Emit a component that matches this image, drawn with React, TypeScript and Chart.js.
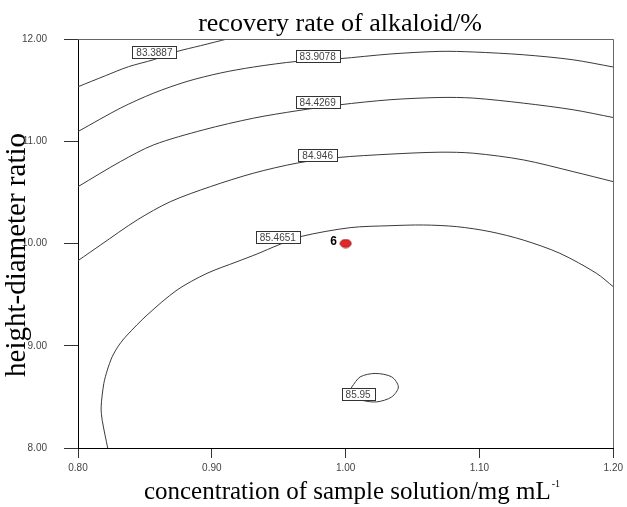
import React, { useEffect, useRef } from 'react';
import { Chart, registerables } from 'chart.js';

Chart.register(...registerables);

const TITLE = 'recovery rate of alkaloid/%';
const X_TITLE = 'concentration of sample solution/mg mL';
const X_TITLE_SUP = '-1';
const Y_TITLE = 'height-diameter ratio';

const X_TICKS = [0.8, 0.9, 1.0, 1.1, 1.2];
const Y_TICKS = [8, 9, 10, 11, 12];

const LEVELS = ['83.3887', '83.9078', '84.4269', '84.946', '85.4651', '85.95'];

const C1_X = [0.8, 0.8205, 0.8377, 0.8563, 0.8735, 0.8914, 0.9123];
const C1_Y = [11.533, 11.641, 11.729, 11.797, 11.876, 11.934, 12.003];

const C2_X = [0.8, 0.8317, 0.8566, 0.8815, 0.9063, 0.9312, 0.9636, 0.9952, 1.0332, 1.0705, 1.0954, 1.1327, 1.1698, 1.2];
const C2_Y = [11.095, 11.324, 11.471, 11.585, 11.667, 11.726, 11.781, 11.807, 11.853, 11.879, 11.873, 11.846, 11.797, 11.726];

const C3_X = [0.8, 0.8317, 0.8566, 0.8939, 0.9312, 0.9636, 0.9952, 1.0332, 1.0705, 1.0954, 1.1327, 1.17, 1.2];
const C3_Y = [10.556, 10.801, 10.965, 11.112, 11.226, 11.298, 11.356, 11.406, 11.428, 11.422, 11.373, 11.308, 11.232];

const C4_X = [0.8, 0.8168, 0.8442, 0.869, 0.8989, 0.9312, 0.9636, 0.9934, 1.0332, 1.0705, 1.0954, 1.1327, 1.17, 1.2];
const C4_Y = [9.832, 9.985, 10.23, 10.409, 10.556, 10.688, 10.786, 10.84, 10.874, 10.893, 10.883, 10.818, 10.703, 10.605];

const C5_X = [0.8222, 0.8181, 0.8173, 0.8193, 0.8219, 0.8255, 0.8306, 0.8367, 0.8516, 0.874, 0.8964, 0.9188, 0.9337, 0.9496, 0.9661, 1.0034, 1.0332, 1.0581, 1.083, 1.1079, 1.1327, 1.1601, 1.1875, 1.2];
const C5_Y = [8.0, 8.271, 8.402, 8.631, 8.761, 8.891, 9.006, 9.104, 9.3, 9.545, 9.708, 9.822, 9.897, 9.985, 10.067, 10.155, 10.174, 10.181, 10.165, 10.116, 10.034, 9.904, 9.708, 9.577];

const C6_X = [1.0046, 1.0108, 1.022, 1.0345, 1.0394, 1.0345, 1.0233, 1.0121, 1.0034, 1.0046];
const C6_Y = [8.597, 8.695, 8.729, 8.695, 8.597, 8.5, 8.451, 8.467, 8.516, 8.597];

const LABEL_X = [0.8571, 0.9791, 0.9791, 0.9791, 0.9493, 1.0093];
const LABEL_Y = [11.871, 11.831, 11.381, 10.862, 10.059, 8.528];

const DESIGN_X = [1.0];
const DESIGN_Y = [10.0];
const DESIGN_LABEL = ['6'];

const CONTOURS_X = [C1_X, C2_X, C3_X, C4_X, C5_X, C6_X];
const CONTOURS_Y = [C1_Y, C2_Y, C3_Y, C4_Y, C5_Y, C6_Y];

const TICK_FONT = { family: '"Liberation Sans", Arial, sans-serif', size: 10 };

const decorPlugin = {
  id: 'decor',
  afterDatasetsDraw(chart: any) {
    const ctx = chart.ctx;
    const xs = chart.scales.x;
    const ys = chart.scales.y;
    ctx.save();
    // contour labels
    ctx.font = '10px "Liberation Sans", Arial, sans-serif';
    ctx.textAlign = 'center';
    ctx.textBaseline = 'middle';
    LEVELS.forEach((lab, i) => {
      const cx = xs.getPixelForValue(LABEL_X[i]);
      const cy = ys.getPixelForValue(LABEL_Y[i]);
      const w = Math.round(ctx.measureText(lab).width + 8);
      const h = 12;
      const x0 = Math.round(cx - w / 2) + 0.5;
      const y0 = Math.round(cy - h / 2) + 0.5;
      ctx.fillStyle = '#ffffff';
      ctx.fillRect(x0, y0, w, h);
      ctx.strokeStyle = '#333333';
      ctx.lineWidth = 1;
      ctx.strokeRect(x0, y0, w, h);
      ctx.fillStyle = '#444444';
      ctx.fillText(lab, cx, cy + 1);
    });
    // design point label
    ctx.font = 'bold 12px "Liberation Sans", Arial, sans-serif';
    ctx.fillStyle = '#000000';
    DESIGN_LABEL.forEach((lab, i) => {
      const px = xs.getPixelForValue(DESIGN_X[i]);
      const py = ys.getPixelForValue(DESIGN_Y[i]);
      ctx.fillText(lab, px - 12, py - 2);
    });
    ctx.restore();
  },
  afterDraw(chart: any) {
    const ctx = chart.ctx;
    const a = chart.chartArea;
    ctx.save();
    // top & right frame
    ctx.strokeStyle = '#666666';
    ctx.lineWidth = 1;
    ctx.beginPath();
    ctx.moveTo(a.left, Math.round(a.top) + 0.5);
    ctx.lineTo(Math.round(a.right) + 0.5, Math.round(a.top) + 0.5);
    ctx.lineTo(Math.round(a.right) + 0.5, a.bottom);
    ctx.stroke();

    ctx.fillStyle = '#000000';
    // title
    ctx.font = '26px "Liberation Serif", "Times New Roman", serif';
    ctx.textAlign = 'center';
    ctx.textBaseline = 'alphabetic';
    ctx.fillText(TITLE, 340, 31);

    // x title with superscript
    ctx.font = '25px "Liberation Serif", "Times New Roman", serif';
    const wMain = ctx.measureText(X_TITLE).width;
    ctx.font = '10px "Liberation Serif", "Times New Roman", serif';
    const wSup = ctx.measureText(X_TITLE_SUP).width;
    const total = wMain + 1 + wSup;
    const sx = 352 - total / 2;
    ctx.textAlign = 'left';
    ctx.font = '25px "Liberation Serif", "Times New Roman", serif';
    ctx.fillText(X_TITLE, sx, 499);
    ctx.font = '10px "Liberation Serif", "Times New Roman", serif';
    ctx.fillText(X_TITLE_SUP, sx + wMain + 1, 487);

    // y title
    ctx.translate(25, 255);
    ctx.rotate(-Math.PI / 2);
    ctx.textAlign = 'center';
    ctx.font = '29px "Liberation Serif", "Times New Roman", serif';
    ctx.fillText(Y_TITLE, 0, 0);
    ctx.restore();
  },
};

export default function App() {
  const ref = useRef<HTMLCanvasElement | null>(null);
  useEffect(() => {
    if (!ref.current) return;
    const dot = document.createElement('canvas');
    dot.width = 13;
    dot.height = 10;
    const dctx = dot.getContext('2d');
    if (dctx) {
      dctx.beginPath();
      dctx.ellipse(6.5, 5, 5.5, 4, 0, 0, Math.PI * 2);
      dctx.fillStyle = '#e8262a';
      dctx.fill();
      dctx.strokeStyle = '#8a1212';
      dctx.lineWidth = 1;
      dctx.stroke();
    }
    const datasets: any[] = CONTOURS_X.map((xsArr, i) => ({
      label: LEVELS[i],
      data: xsArr.map((x, j) => ({ x, y: CONTOURS_Y[i][j] })),
      showLine: true,
      borderColor: '#3a3a3a',
      borderWidth: 1,
      pointRadius: 0,
      pointHoverRadius: 0,
      tension: 0.3,
      fill: false,
    }));
    datasets.push({
      label: 'design',
      data: DESIGN_X.map((x, j) => ({ x, y: DESIGN_Y[j] })),
      showLine: false,
      pointStyle: dot,
      pointRadius: 5,
    });
    const chart = new Chart(ref.current, {
      type: 'scatter',
      data: { datasets },
      plugins: [decorPlugin],
      options: {
        animation: false,
        responsive: true,
        maintainAspectRatio: false,
        events: [],
        layout: { padding: { top: 39, right: 13, left: 0, bottom: 0 } },
        plugins: { legend: { display: false }, tooltip: { enabled: false }, title: { display: false } },
        scales: {
          x: {
            type: 'linear',
            min: 0.8,
            max: 1.2,
            afterBuildTicks: (s: any) => { s.ticks = X_TICKS.map((v) => ({ value: v })); },
            afterFit: (s: any) => { s.height = 59; },
            ticks: {
              callback: (v: any) => Number(v).toFixed(2),
              font: TICK_FONT,
              color: '#444444',
              padding: 4,
              maxRotation: 0,
              autoSkip: false,
            },
            grid: { drawOnChartArea: false, drawTicks: true, tickLength: 10, color: '#333333' },
            border: { display: true, color: '#000000', width: 1 },
          },
          y: {
            type: 'linear',
            min: 8,
            max: 12,
            afterBuildTicks: (s: any) => { s.ticks = Y_TICKS.map((v) => ({ value: v })); },
            afterFit: (s: any) => { s.width = 78; },
            ticks: {
              callback: (v: any) => Number(v).toFixed(2),
              font: TICK_FONT,
              color: '#444444',
              padding: 17,
              autoSkip: false,
            },
            grid: { drawOnChartArea: false, drawTicks: true, tickLength: 14, color: '#333333' },
            border: { display: true, color: '#000000', width: 1 },
          },
        },
      },
    });
    return () => chart.destroy();
  }, []);
  return (
    <div style={{ position: 'absolute', left: 0, top: 0, width: 627, height: 507, background: '#ffffff' }}>
      <canvas ref={ref} />
    </div>
  );
}
